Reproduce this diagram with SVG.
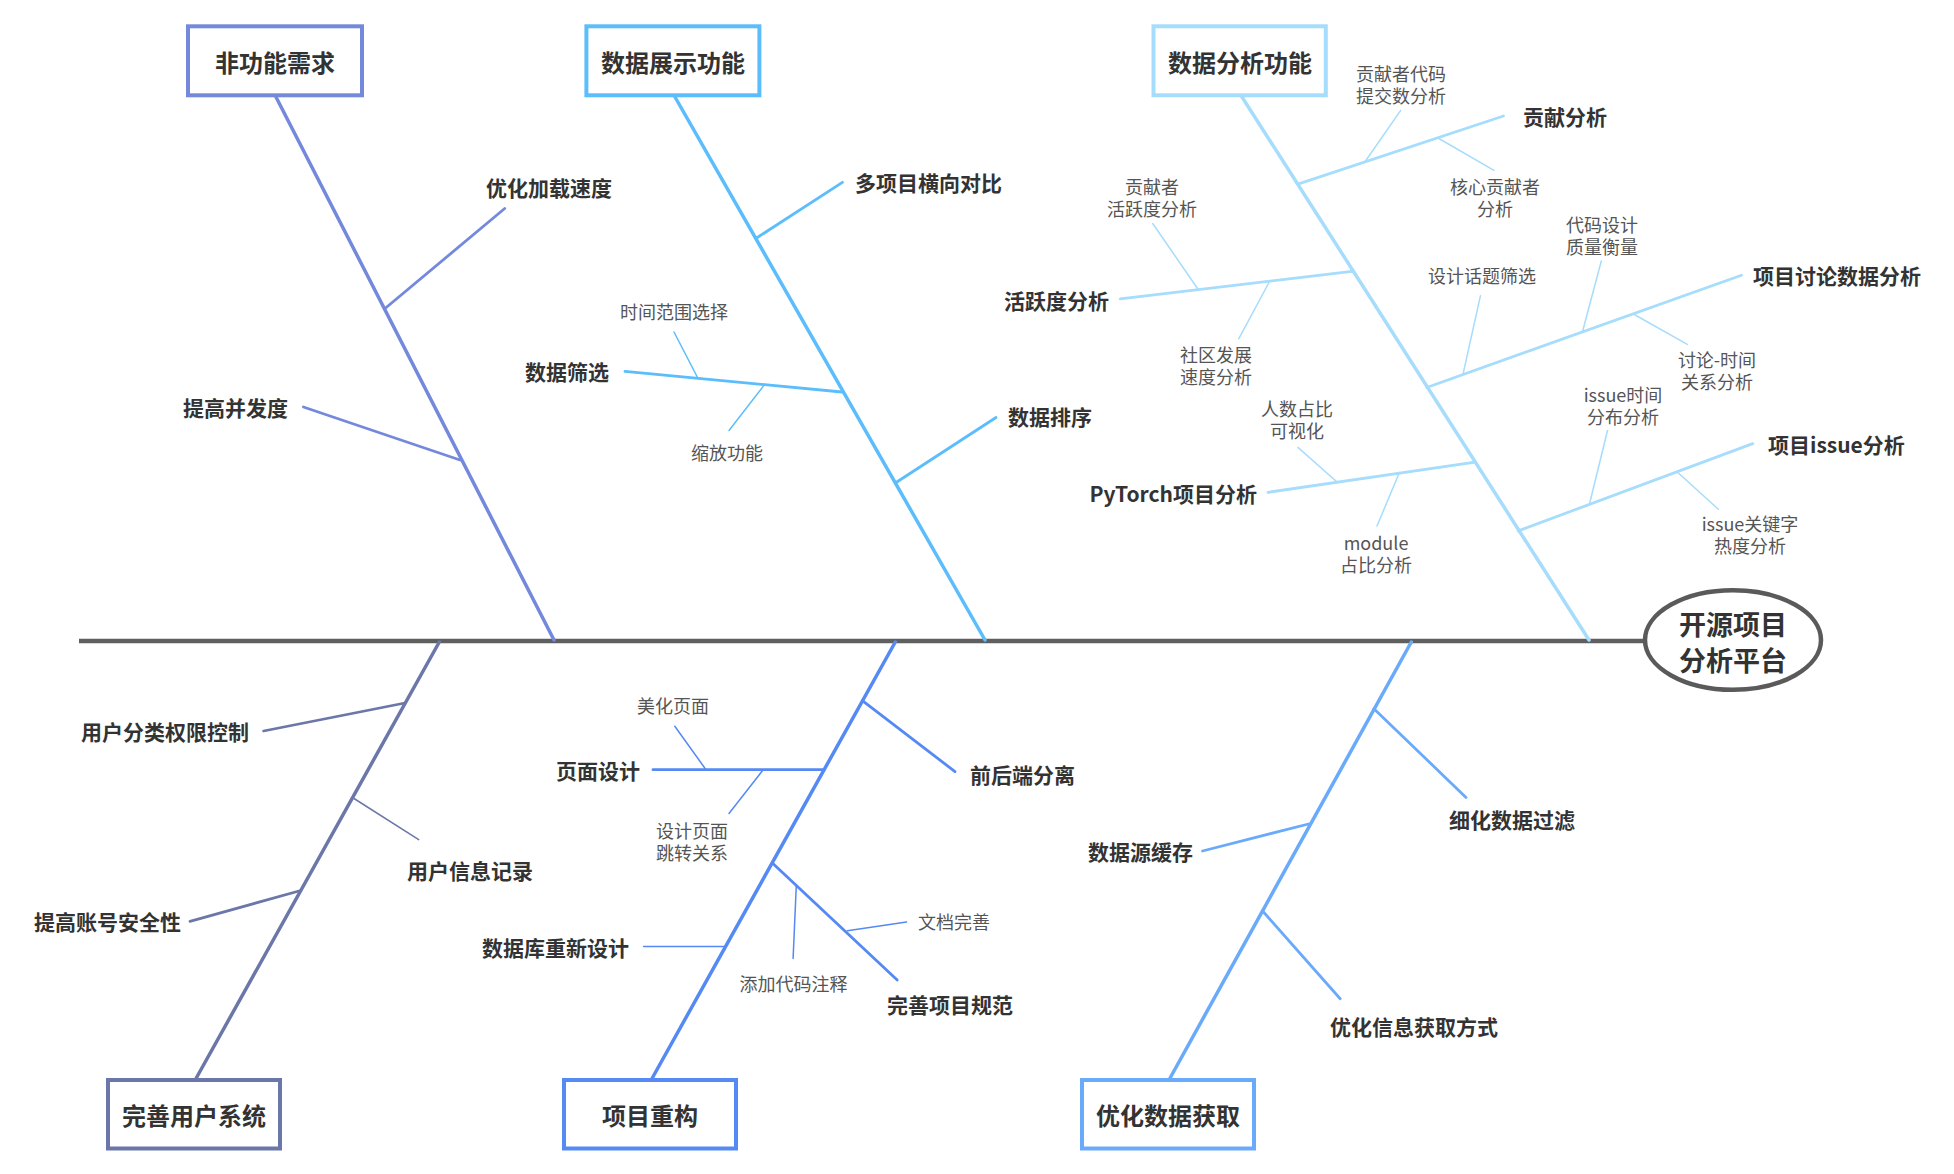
<svg xmlns="http://www.w3.org/2000/svg" width="1954" height="1174" viewBox="0 0 1954 1174">
<style>
text{font-family:"Noto Sans CJK SC","Noto Sans",sans-serif;dominant-baseline:central}
.bt{font-size:24px;font-weight:bold;fill:#333;text-anchor:middle}
.ht{font-size:27px;font-weight:bold;fill:#333;text-anchor:middle}
.lb{font-size:21px;font-weight:bold;fill:#333}
.sm{font-size:18px;fill:#555;text-anchor:middle}
.e{text-anchor:end}
.s{text-anchor:start}
.box{fill:#fff;stroke-width:4}
.m{fill:none;stroke-width:3.5;stroke-linecap:round}
.b{fill:none;stroke-width:2.8;stroke-linecap:round}
.t{fill:none;stroke-width:1.5;stroke-linecap:round}
.c1{stroke:#7489DC}.c2{stroke:#5BBDFB}.c3{stroke:#A6DCFC}.c4{stroke:#6C77A9}.c5{stroke:#5589F4}.c6{stroke:#6AAAFB}
</style>
<rect width="1954" height="1174" fill="#fff"/>
<g id="connectors">
<line x1="79" y1="641" x2="1646" y2="641" stroke="#5f5f5f" stroke-width="4.5"/>
<line class="m c1" x1="276" y1="97" x2="554" y2="640"/>
<line class="b c1" x1="384.4" y1="309" x2="504.7" y2="208.5"/>
<line class="b c1" x1="460" y1="460" x2="303.4" y2="407"/>
<line class="m c2" x1="675" y1="97" x2="985" y2="640"/>
<line class="b c2" x1="755.8" y1="238.5" x2="842.4" y2="182.3"/>
<line class="b c2" x1="842" y1="392" x2="625" y2="371.4"/>
<line class="t c2" x1="697.8" y1="378" x2="674" y2="332"/>
<line class="t c2" x1="764.5" y1="384.6" x2="729" y2="430.5"/>
<line class="b c2" x1="895.3" y1="483" x2="996" y2="417.5"/>
<line class="m c3" x1="1242" y1="97" x2="1589" y2="640"/>
<line class="b c3" x1="1297.9" y1="184.2" x2="1503.5" y2="116"/>
<line class="t c3" x1="1365" y1="161.7" x2="1400.7" y2="110.4"/>
<line class="t c3" x1="1438" y1="138" x2="1494" y2="170.3"/>
<line class="b c3" x1="1352" y1="271.4" x2="1120.3" y2="298.8"/>
<line class="t c3" x1="1198.2" y1="289.5" x2="1152.7" y2="223.5"/>
<line class="t c3" x1="1269.8" y1="281" x2="1238.7" y2="338.8"/>
<line class="b c3" x1="1426.8" y1="387.5" x2="1741.5" y2="275.2"/>
<line class="t c3" x1="1463" y1="374.4" x2="1480.4" y2="295.8"/>
<line class="t c3" x1="1582.6" y1="331.3" x2="1601.3" y2="261"/>
<line class="t c3" x1="1634.3" y1="314.5" x2="1687.3" y2="344.4"/>
<line class="b c3" x1="1473.5" y1="462.4" x2="1268" y2="492.3"/>
<line class="t c3" x1="1336.5" y1="481.5" x2="1297.9" y2="447.4"/>
<line class="t c3" x1="1399.4" y1="472.5" x2="1377" y2="526"/>
<line class="b c3" x1="1518.2" y1="530.9" x2="1752.7" y2="443.6"/>
<line class="t c3" x1="1589.5" y1="504" x2="1607.5" y2="430.5"/>
<line class="t c3" x1="1676.7" y1="471.5" x2="1718.4" y2="509.2"/>
<line class="m c4" x1="439.3" y1="642" x2="196.3" y2="1078"/>
<line class="b c4" x1="405" y1="703" x2="263.6" y2="731"/>
<line class="t c4" x1="354" y1="798.5" x2="418.7" y2="839.7"/>
<line class="b c4" x1="299" y1="891" x2="190" y2="921.3"/>
<line class="m c5" x1="895.3" y1="642" x2="652.3" y2="1078"/>
<line class="b c5" x1="863" y1="701.2" x2="955" y2="771.6"/>
<line class="b c5" x1="824" y1="769.7" x2="653" y2="769.7"/>
<line class="t c5" x1="706" y1="769.7" x2="674.8" y2="726.3"/>
<line class="t c5" x1="763.2" y1="769.7" x2="729" y2="813.5"/>
<line class="b c5" x1="772.6" y1="863.3" x2="897.2" y2="980.1"/>
<line class="t c5" x1="796.3" y1="885.5" x2="793.1" y2="958.4"/>
<line class="t c5" x1="847.4" y1="930.7" x2="906.5" y2="922"/>
<line class="t c5" x1="725" y1="946.4" x2="643.6" y2="946.4"/>
<line class="m c6" x1="1411.3" y1="642" x2="1170.1" y2="1078"/>
<line class="b c6" x1="1373.9" y1="708.7" x2="1466" y2="797.4"/>
<line class="b c6" x1="1308.5" y1="824" x2="1202.5" y2="851"/>
<line class="b c6" x1="1262.4" y1="910.8" x2="1340.2" y2="998.8"/>
</g>
<g id="head">
<ellipse cx="1733" cy="640" rx="88" ry="49.8" fill="#fff" stroke="#5a5a5a" stroke-width="4.5"/>
<text class="ht" x="1733" y="623">开源项目</text>
<text class="ht" x="1733" y="659.5">分析平台</text>
</g>
<g id="n-feigongneng">
<rect class="box c1" x="188" y="26.3" width="174" height="69"/>
<text class="bt" x="275" y="61.5">非功能需求</text>
</g>
<g id="n-zhanshi">
<rect class="box c2" x="586.4" y="26.3" width="173" height="69"/>
<text class="bt" x="673" y="61.5">数据展示功能</text>
</g>
<g id="n-fenxi">
<rect class="box c3" x="1153.5" y="26.3" width="172.3" height="69"/>
<text class="bt" x="1240" y="61.5">数据分析功能</text>
</g>
<g id="n-yonghu">
<rect class="box c4" x="108" y="1080" width="172" height="68.5"/>
<text class="bt" x="194" y="1114.5">完善用户系统</text>
</g>
<g id="n-chonggou">
<rect class="box c5" x="564" y="1080" width="172" height="68.5"/>
<text class="bt" x="650" y="1114.5">项目重构</text>
</g>
<g id="n-huoqu">
<rect class="box c6" x="1082" y="1080" width="172" height="68.5"/>
<text class="bt" x="1168" y="1114.5">优化数据获取</text>
</g>
<g id="labels-1">
<text class="lb s" x="486" y="187">优化加载速度</text>
<text class="lb e" x="288" y="407">提高并发度</text>
</g>
<g id="labels-2">
<text class="lb s" x="855" y="182">多项目横向对比</text>
<text class="lb e" x="609" y="371">数据筛选</text>
<text class="sm" x="674" y="311">时间范围选择</text>
<text class="sm" x="727" y="452">缩放功能</text>
<text class="lb s" x="1008" y="416">数据排序</text>
</g>
<g id="labels-3">
<text class="lb s" x="1523" y="116">贡献分析</text>
<text class="sm" x="1401" y="73">贡献者代码</text>
<text class="sm" x="1401" y="95.2">提交数分析</text>
<text class="sm" x="1495" y="185.6">核心贡献者</text>
<text class="sm" x="1495" y="207.8">分析</text>
<text class="lb e" x="1109" y="299.5">活跃度分析</text>
<text class="sm" x="1152" y="185.6">贡献者</text>
<text class="sm" x="1152" y="207.8">活跃度分析</text>
<text class="sm" x="1216" y="353.6">社区发展</text>
<text class="sm" x="1216" y="375.8">速度分析</text>
<text class="lb s" x="1753" y="275">项目讨论数据分析</text>
<text class="sm" x="1482" y="275">设计话题筛选</text>
<text class="sm" x="1602" y="224.2">代码设计</text>
<text class="sm" x="1602" y="246.4">质量衡量</text>
<text class="sm" x="1717" y="359">讨论-时间</text>
<text class="sm" x="1717" y="381.2">关系分析</text>
<text class="lb e" x="1257" y="493">PyTorch项目分析</text>
<text class="sm" x="1297" y="407.6">人数占比</text>
<text class="sm" x="1297" y="429.8">可视化</text>
<text class="sm" x="1376" y="541.6">module</text>
<text class="sm" x="1376" y="563.8">占比分析</text>
<text class="lb s" x="1768" y="443.6">项目issue分析</text>
<text class="sm" x="1623" y="393.6">issue时间</text>
<text class="sm" x="1623" y="415.8">分布分析</text>
<text class="sm" x="1750" y="523">issue关键字</text>
<text class="sm" x="1750" y="545.2">热度分析</text>
</g>
<g id="labels-4">
<text class="lb e" x="249" y="731">用户分类权限控制</text>
<text class="lb s" x="407" y="870">用户信息记录</text>
<text class="lb e" x="181" y="921">提高账号安全性</text>
</g>
<g id="labels-5">
<text class="lb s" x="970" y="774">前后端分离</text>
<text class="lb e" x="640" y="770">页面设计</text>
<text class="sm" x="673" y="705">美化页面</text>
<text class="sm" x="692" y="830">设计页面</text>
<text class="sm" x="692" y="852.2">跳转关系</text>
<text class="lb s" x="887" y="1004">完善项目规范</text>
<text class="sm" x="793.5" y="983">添加代码注释</text>
<text class="sm s" x="918" y="921">文档完善</text>
<text class="lb e" x="629" y="947">数据库重新设计</text>
</g>
<g id="labels-6">
<text class="lb s" x="1449" y="819">细化数据过滤</text>
<text class="lb e" x="1193" y="851">数据源缓存</text>
<text class="lb s" x="1330" y="1026">优化信息获取方式</text>
</g>
</svg>
